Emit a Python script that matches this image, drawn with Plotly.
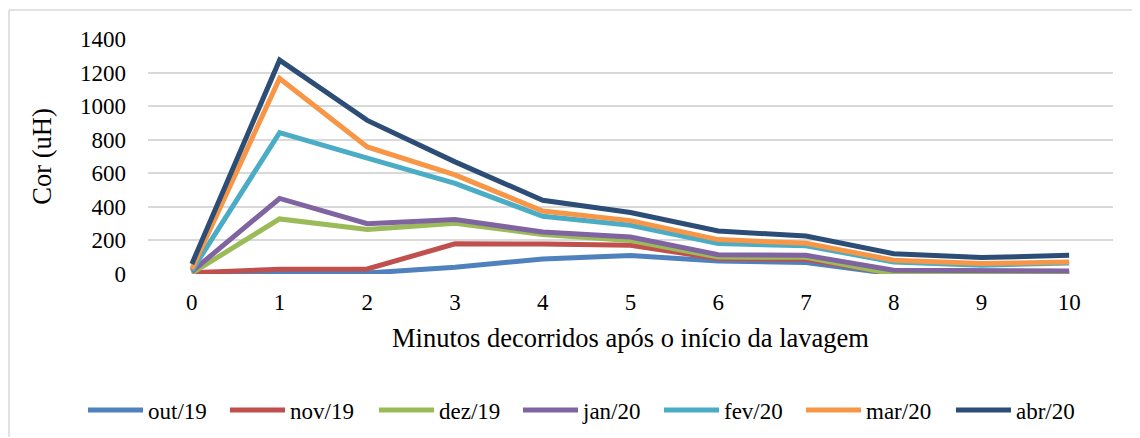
import plotly.graph_objects as go

minutes = [0, 1, 2, 3, 4, 5, 6, 7, 8, 9, 10]
tick_labels = ["0", "1", "2", "3", "4", "5", "6", "7", "8", "9", "10"]

series_names = ["out/19", "nov/19", "dez/19", "jan/20", "fev/20", "mar/20", "abr/20"]
out19 = [0, 4, 6, 40, 90, 110, 77, 68, 0, 3, 3]
nov19 = [8, 28, 30, 180, 178, 171, 92, 88, 2, 3, 3]
dez19 = [5, 328, 265, 302, 235, 200, 101, 100, 0, 3, 2]
jan20 = [15, 450, 300, 324, 250, 220, 115, 111, 22, 22, 18]
fev20 = [20, 842, 690, 540, 344, 290, 181, 168, 72, 52, 66]
mar20 = [30, 1165, 757, 590, 375, 318, 205, 183, 82, 62, 72]
abr20 = [60, 1274, 915, 668, 439, 366, 256, 226, 121, 98, 111]
series_values = [out19, nov19, dez19, jan20, fev20, mar20, abr20]
colors = ["#4F81BD", "#C0504D", "#9BBB59", "#8064A2", "#4BACC6", "#F79646", "#2C4D75"]

FONT = "Liberation Serif"

# page is offset by the default 8px body margin
W, H = 1132, 430
L, R, T, B = 140, 27, 31, 164
pw, ph = W - L - R, H - T - B

legend_x_px = [80, 222, 371, 515, 656, 798, 948]

fig = go.Figure()
layout_legends = {}
for i, (name, vals, col) in enumerate(zip(series_names, series_values, colors)):
    key = "legend" if i == 0 else f"legend{i + 1}"
    fig.add_trace(go.Scatter(
        x=minutes, y=vals, name=name, mode="lines",
        line=dict(color=col, width=5), legend=key,
    ))
    layout_legends[key] = dict(
        orientation="h", xref="container", yref="container",
        x=(legend_x_px[i] - 5) / W, xanchor="left",
        y=1 - 402 / H, yanchor="middle",
        font=dict(family=FONT, size=23), itemwidth=55,
        bgcolor="rgba(0,0,0,0)", borderwidth=0,
    )

fig.update_layout(
    width=W, height=H,
    margin=dict(l=L, r=R, t=T, b=B, autoexpand=False),
    paper_bgcolor="white", plot_bgcolor="white",
    font=dict(family=FONT, size=23, color="black"),
    xaxis=dict(
        range=[-0.5, 10.5], tickmode="array", tickvals=minutes, ticktext=tick_labels,
        showgrid=False, zeroline=False, showline=False, ticks="",
        ticklabelstandoff=12,
        title=dict(text="Minutos decorridos após o início da lavagem",
                   font=dict(family=FONT, size=26.5), standoff=14),
    ),
    yaxis=dict(
        range=[0, 1400], dtick=200, showgrid=True, gridcolor="#D9D9D9", gridwidth=1.5,
        zeroline=False, showline=False, ticks="", ticklabelstandoff=21,
        title=dict(text="Cor (uH)", font=dict(family=FONT, size=26.5), standoff=20),
    ),
    showlegend=True,
    shapes=[
        dict(type="line", xref="paper", yref="paper",
             x0=(1 - L) / pw, x1=(1 - L) / pw,
             y0=-(B - 1) / ph, y1=(H - B - 2) / ph,
             line=dict(color="#D9D9D9", width=1.5)),
        dict(type="line", xref="paper", yref="paper",
             x0=(1 - L) / pw, x1=(W - L) / pw,
             y0=(H - B - 2) / ph, y1=(H - B - 2) / ph,
             line=dict(color="#D9D9D9", width=1.5)),
    ],
    **layout_legends,
)

fig.write_html("out.html")
